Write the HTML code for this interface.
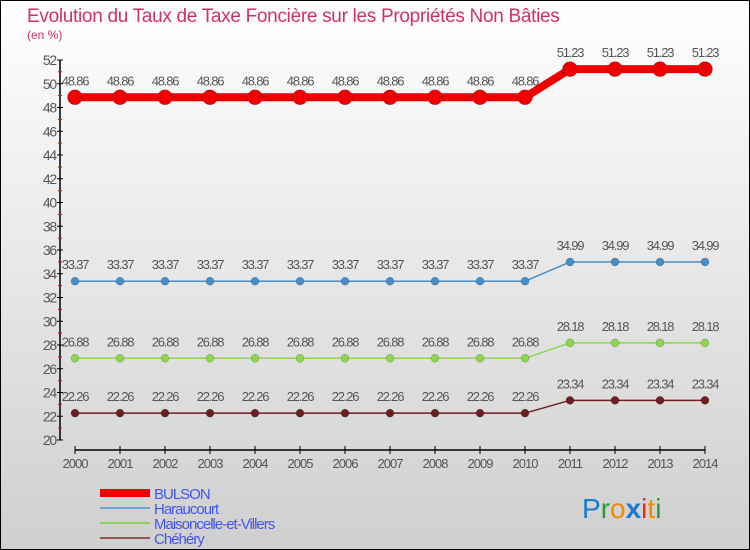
<!DOCTYPE html>
<html><head><meta charset="utf-8"><style>
body{margin:0}
#c{width:750px;height:550px;position:relative;overflow:hidden;font-family:"Liberation Sans",sans-serif}
</style></head><body>
<div id="c">
<svg width="750" height="550" xmlns="http://www.w3.org/2000/svg">
<defs><linearGradient id="bg" x1="0" y1="0" x2="0" y2="1"><stop offset="0" stop-color="#ffffff"/><stop offset="1" stop-color="#cfcfcf"/></linearGradient></defs>
<rect x="0.5" y="0.5" width="749" height="549" fill="url(#bg)" stroke="#000"/>
<text x="27" y="22" font-size="19" fill="#d0306a" letter-spacing="-0.3">Evolution du Taux de Taxe Foncière sur les Propriétés Non Bâties</text>
<text x="27" y="39" font-size="12" fill="#d0306a">(en %)</text>
<g id="axes"></g>
<g id="series"></g>
<g id="legend"></g>
<text x="582" y="518" font-size="28"><tspan fill="#1a7ad0">P</tspan><tspan fill="#2a9a3a">r</tspan><tspan fill="#f08a00">o</tspan><tspan fill="#1a7ad0" font-weight="bold">x</tspan><tspan fill="#e03010">i</tspan><tspan fill="#f08a00">t</tspan><tspan fill="#2a9a3a">i</tspan></text>
</svg>
</div>
<script>
const years=[2000,2001,2002,2003,2004,2005,2006,2007,2008,2009,2010,2011,2012,2013,2014];
const bulson=[48.86,48.86,48.86,48.86,48.86,48.86,48.86,48.86,48.86,48.86,48.86,51.23,51.23,51.23,51.23];
const haraucourt=[33.37,33.37,33.37,33.37,33.37,33.37,33.37,33.37,33.37,33.37,33.37,34.99,34.99,34.99,34.99];
const maisoncelle=[26.88,26.88,26.88,26.88,26.88,26.88,26.88,26.88,26.88,26.88,26.88,28.18,28.18,28.18,28.18];
const chehery=[22.26,22.26,22.26,22.26,22.26,22.26,22.26,22.26,22.26,22.26,22.26,23.34,23.34,23.34,23.34];
const yTicks=[20,22,24,26,28,30,32,34,36,38,40,42,44,46,48,50,52];
const seriesNames=["BULSON","Haraucourt","Maisoncelle-et-Villers","Chéhéry"];
const NS="http://www.w3.org/2000/svg";
const yMin=20,yMax=52,yTop=60,yBot=440;
function ys(v){return yBot-(v-yMin)/(yMax-yMin)*(yBot-yTop);}
function xs(i){return 75+i*(630/(years.length-1));}
function mk(tag,attrs,parent){const e=document.createElementNS(NS,tag);for(const k in attrs)e.setAttribute(k,attrs[k]);parent.appendChild(e);return e;}
const axes=document.getElementById('axes');
let yl=mk('line',{x1:60,y1:yTop,x2:60,y2:yBot,stroke:'#000','stroke-width':1.5},axes);


yTicks.forEach(t=>{
  const y=ys(t);
  let l=mk('line',{x1:57,y1:y,x2:63,y2:y,stroke:'#000'},axes);
  
  
  let tx=mk('text',{x:56,y:y+5,'text-anchor':'end','font-size':14,fill:'#555','letter-spacing':'-1.2'},axes);tx.textContent=t;
  
  
  if(t<yMax){let m=mk('line',{x1:58,y1:ys(t+1),x2:62,y2:ys(t+1),stroke:'#e00'},axes);
  
  }
});
let xl=mk('line',{x1:xs(0),y1:450,x2:xs(years.length-1),y2:450,stroke:'#000','stroke-width':1.5},axes);


years.forEach((yr,i)=>{
  let l=mk('line',{x1:xs(i),y1:446,x2:xs(i),y2:454,stroke:'#000'},axes);
  
  
  let tx=mk('text',{x:xs(i),y:468,'text-anchor':'middle','font-size':13,fill:'#555','letter-spacing':'-1'},axes);tx.textContent=yr;
  
  
});
const sg=document.getElementById('series');
function drawSeries(vals,color,lw,r,name){
  const g=mk('g',{},sg);
  
  
  let p=mk('polyline',{points:vals.map((v,i)=>xs(i)+','+ys(v)).join(' '),fill:'none',stroke:color,'stroke-width':lw},g);
  
  
  vals.forEach((v,i)=>{
    let c=mk('circle',{cx:xs(i),cy:ys(v),r:r,fill:color,stroke:'rgba(0,0,0,0.3)','stroke-width':0.5},g);
    
    
    let t=mk('text',{x:xs(i),y:ys(v)-12,'text-anchor':'middle','font-size':13,fill:'#555','letter-spacing':'-1.2'},g);t.textContent=v.toFixed(2);
    
    
  });
}
drawSeries(chehery,'#6b1f25',1.5,4,'chehery');
drawSeries(maisoncelle,'#8fd455',1.5,4,'maisoncelle');
drawSeries(haraucourt,'#4a8cc4',1.5,4,'haraucourt');
drawSeries(bulson,'#ee0000',8,7.5,'bulson');
const lg=document.getElementById('legend');
const lcol=['#ee0000','#6fa6d0','#90d060','#8a5a5a'];const lw=[8,2,2,2];
seriesNames.forEach((n,i)=>{
  const y=493+i*15;
  let l=mk('line',{x1:100,y1:y,x2:150,y2:y,stroke:lcol[i],'stroke-width':lw[i]},lg);
  
  
  let t=mk('text',{x:154,y:y+6,'font-size':15,fill:'#4455ee','letter-spacing':'-1'},lg);t.textContent=n;
  
  
});
</script>
</body></html>
